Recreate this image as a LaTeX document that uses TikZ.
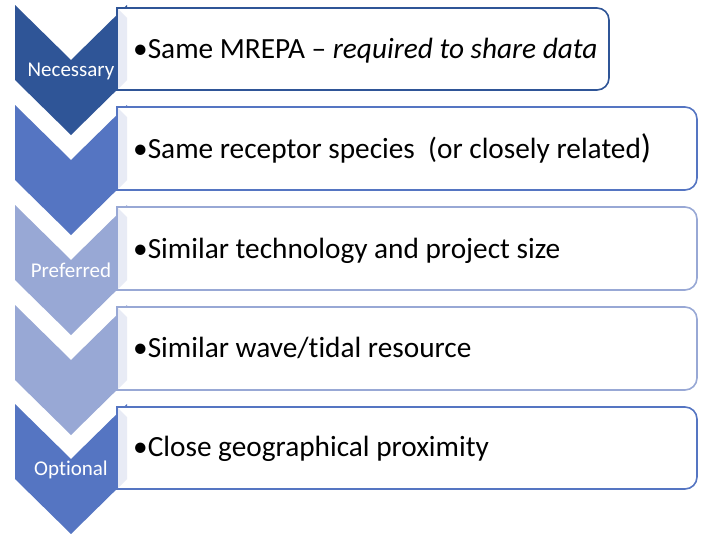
\documentclass[tikz,border=0pt]{standalone}
\usepackage{fontspec}
\setmainfont{Carlito}[Ligatures=CommonOff]
\definecolor{cA}{HTML}{2F5597}
\definecolor{cB}{HTML}{5575C2}
\definecolor{cC}{HTML}{98A8D5}
\definecolor{strip}{HTML}{E8EBF5}
\begin{document}
\begin{tikzpicture}[x=1pt,y=-1pt,
  chev/.style={fill=#1,draw=none},
  listbox/.style={draw=#1,line width=1.6pt,fill=white},
  itemtext/.style={anchor=base west,inner sep=0pt,font=\fontsize{29.3}{32}\selectfont,text=black},
  lvl/.style={inner sep=0pt,font=\fontsize{21}{23}\selectfont,text=white}]
\useasboundingbox (0,0) rectangle (704,533);
% chevrons
\foreach \y/\c in {5/cA,105/cB,205/cC,305/cC,404/cB}{
  \fill[chev=\c] (15,\y) -- (71,\y+55) -- (127,\y) -- (127,\y+75) -- (71,\y+130) -- (15,\y+75) -- cycle;
}
% boxes
\foreach \t/\b/\r/\c in {8/90/609/cA,107/190/697/cB,207/290/697/cC,307/390/697/cC,407/489/697/cB}{
  \draw[listbox=\c] (117,\t) -- (\r-12,\t) arc[start angle=90,end angle=0,radius=12pt] -- (\r,\b-12) arc[start angle=0,end angle=-90,radius=12pt] -- (117,\b) -- cycle;
  \fill[strip] (118,\t+1) -- (127,\t+10) -- (127,\b-10) -- (118,\b-1) -- cycle;
}
% item texts
\node[itemtext] (t1) at (133,58) {•Same MREPA – \textit{required to share data}};
\node[itemtext] (t2) at (133,158) {•Same receptor species\ \ (or closely related{\fontsize{34}{34}\selectfont)}};
\node[itemtext] (t3) at (133,258) {•Similar technology and project size};
\node[itemtext] (t4) at (133,357) {•Similar wave/tidal resource};
\node[itemtext] (t5) at (133,456) {•Close geographical proximity};
% level labels
\node[lvl] (l1) at (71,71) {Necessary};
\node[lvl] (l2) at (71,270) {Preferred};
\node[lvl] (l3) at (71,470) {Optional};
\end{tikzpicture}
\end{document}
